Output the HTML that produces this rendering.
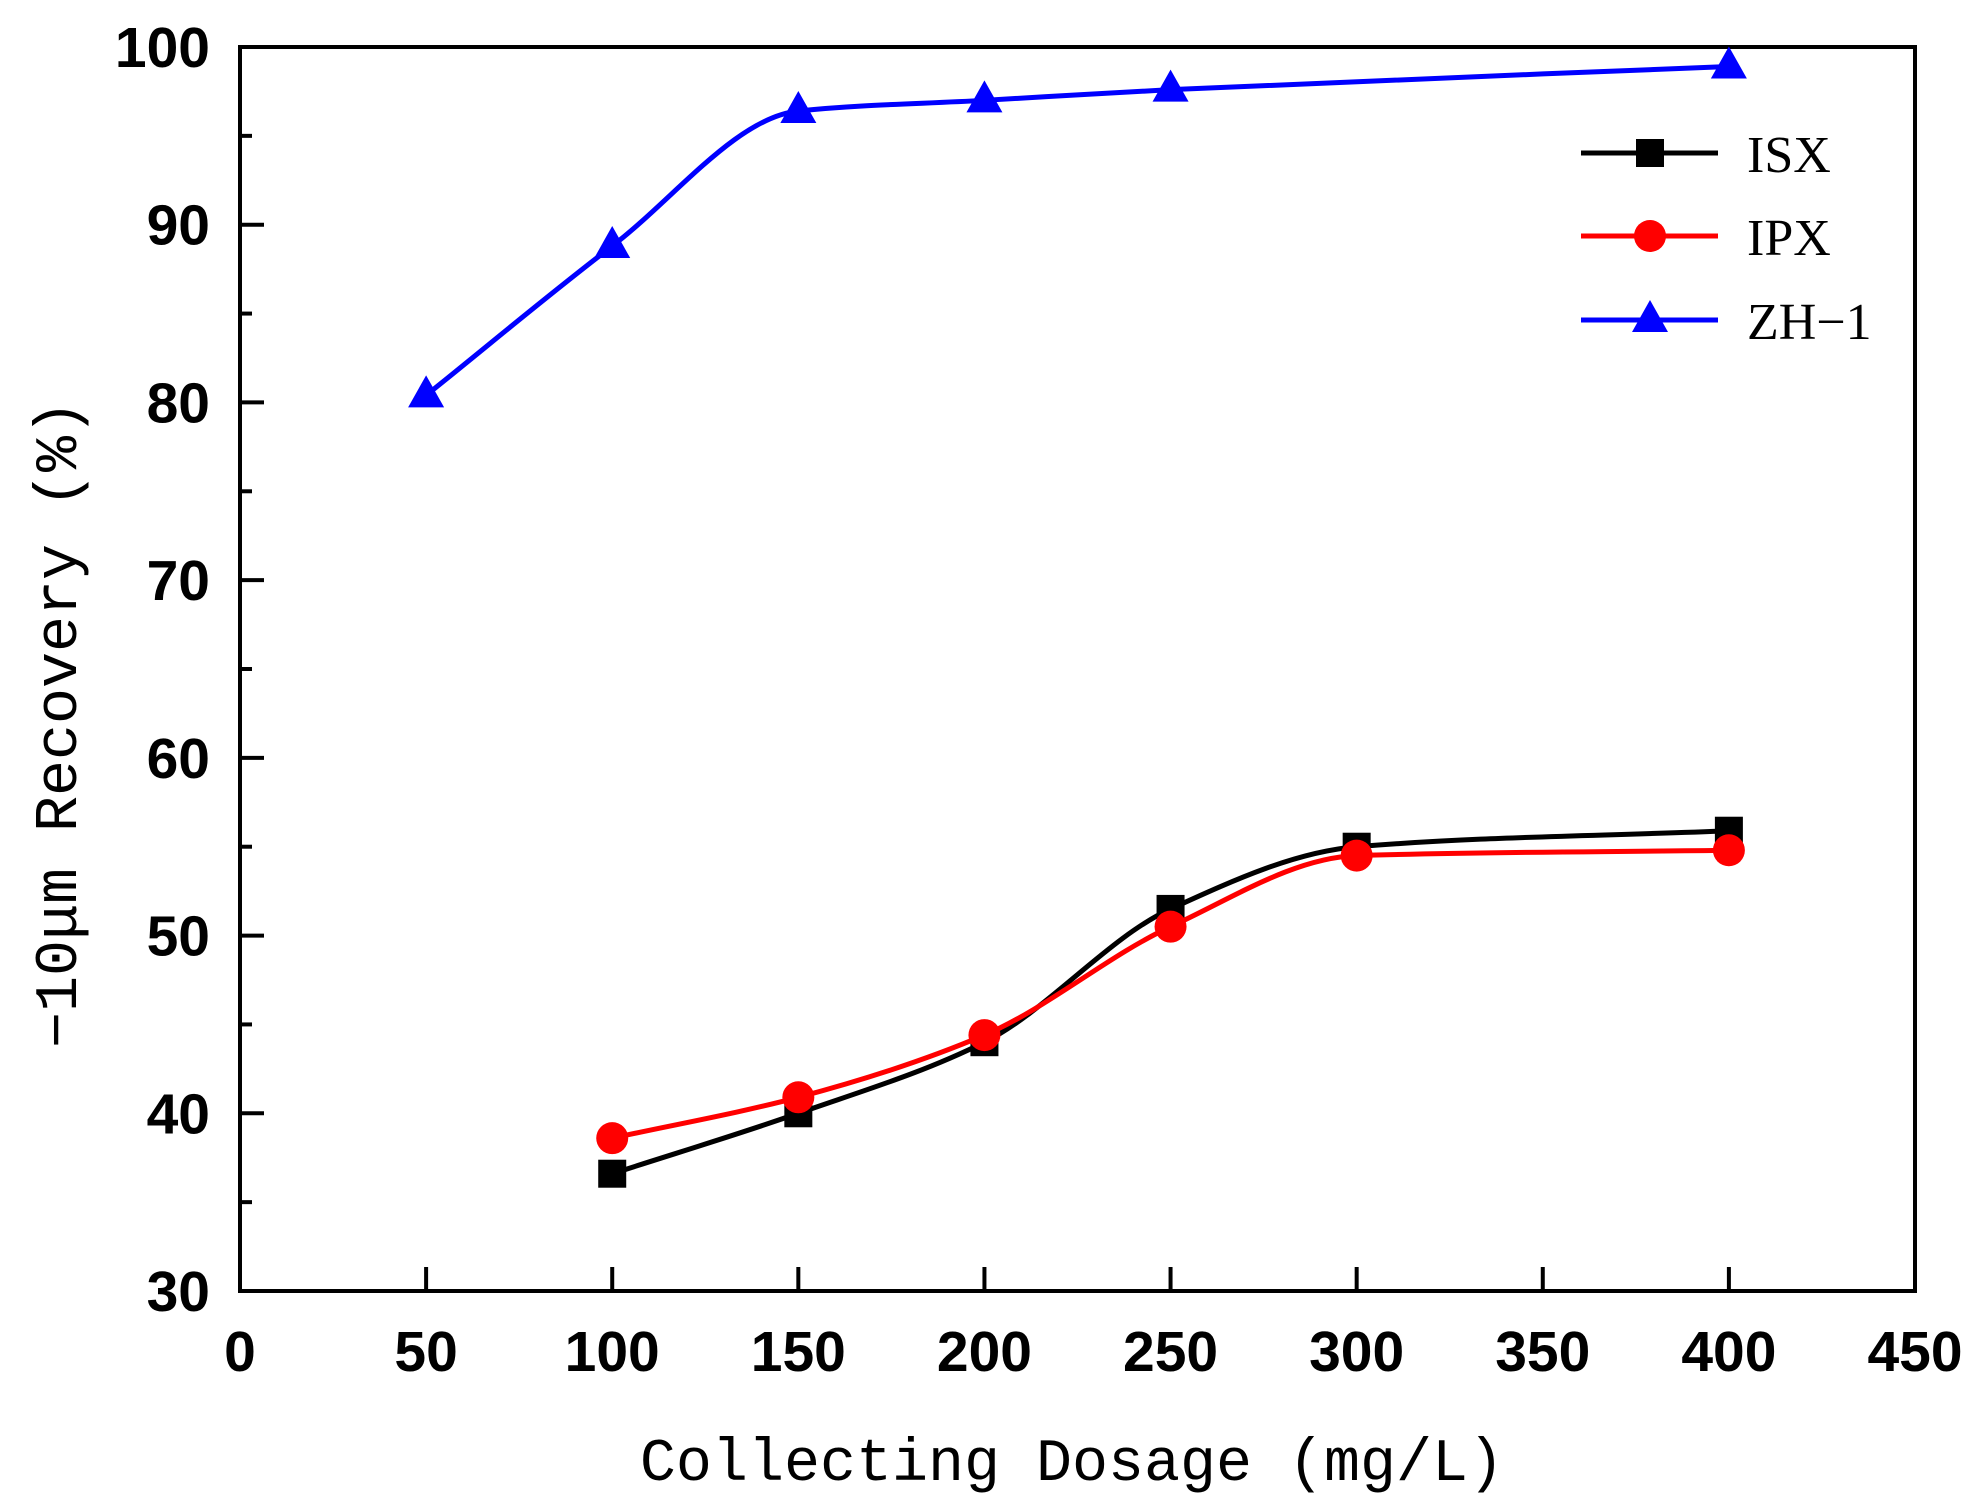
<!DOCTYPE html>
<html><head><meta charset="utf-8"><style>
html,body{margin:0;padding:0;background:#fff;}
svg{display:block;}
</style></head><body>
<svg id="chart" width="1982" height="1511" viewBox="0 0 1982 1511" xmlns="http://www.w3.org/2000/svg">
<g id="axes"></g>
<g id="series"></g>
<g id="legend">
  <line x1="1581" y1="153" x2="1718" y2="153" stroke="#000" stroke-width="5"/>
  <rect x="1636" y="139" width="28" height="28" fill="#000"/>
  <text x="1747" y="172" font-family="'Liberation Serif','Noto Serif CJK SC',serif" font-size="52">ISX</text>
  <line x1="1581" y1="236" x2="1718" y2="236" stroke="#f00" stroke-width="5"/>
  <circle cx="1650" cy="236" r="16" fill="#f00"/>
  <text x="1747" y="255" font-family="'Liberation Serif','Noto Serif CJK SC',serif" font-size="52">IPX</text>
  <line x1="1581" y1="320" x2="1718" y2="320" stroke="#00f" stroke-width="5"/>
  <polygon points="1650,300 1668,332 1632,332" fill="#00f"/>
  <text x="1747" y="339" font-family="'Liberation Serif','Noto Serif CJK SC',serif" font-size="52">ZH−1</text>
</g>
<text x="1072" y="1480" text-anchor="middle" font-family="'Liberation Mono','Noto Serif CJK SC',monospace" font-size="60">Collecting Dosage (mg/L)</text>
<text transform="translate(76,724) rotate(-90)" text-anchor="middle" font-family="'Liberation Mono','Noto Serif CJK SC',monospace" font-size="60">−10μm Recovery (%)</text>
</svg>
<script>
const xTicks=[0,50,100,150,200,250,300,350,400,450];
const yTicks=[30,40,50,60,70,80,90,100];
const isxX=[100,150,200,250,300,400];
const isxY=[36.6,40.0,44.0,51.5,55.0,55.9];
const ipxX=[100,150,200,250,300,400];
const ipxY=[38.6,40.9,44.4,50.5,54.5,54.8];
const zhX=[50,100,150,200,250,400];
const zhY=[80.4,88.8,96.4,97.0,97.6,98.9];

const L=240,R=1915,T=47,B=1291;
const sx=v=>L+(v-0)/(450-0)*(R-L);
const sy=v=>B-(v-30)/(100-30)*(B-T);
const NS='http://www.w3.org/2000/svg';
const ax=document.getElementById('axes');
const se=document.getElementById('series');
function mk(tag,attrs,parent){const e=document.createElementNS(NS,tag);for(const k in attrs)e.setAttribute(k,attrs[k]);parent.appendChild(e);return e;}

const frame=mk('rect',{x:L,y:T,width:R-L,height:B-T,fill:'none',stroke:'#000','stroke-width':4},ax);


xTicks.forEach(v=>{
  const x=sx(v);
  if(v>0&&v<450){const t=mk('line',{x1:x,y1:B,x2:x,y2:B-24,stroke:'#000','stroke-width':4},ax);
  
  }
  const tx=mk('text',{x:x,y:B+80,'text-anchor':'middle','font-family':"'Liberation Sans',sans-serif",'font-weight':'bold','font-size':57},ax);
  tx.textContent=v;
  
  
});
yTicks.forEach(v=>{
  const y=sy(v);
  if(v>30&&v<100){const t=mk('line',{x1:L,y1:y,x2:L+24,y2:y,stroke:'#000','stroke-width':4},ax);
  
  }
  if(v<100){const m=mk('line',{x1:L,y1:sy(v+5),x2:L+12,y2:sy(v+5),stroke:'#000','stroke-width':4},ax);
  
  }
  const tx=mk('text',{x:L-30,y:y+20,'text-anchor':'end','font-family':"'Liberation Sans',sans-serif",'font-weight':'bold','font-size':57},ax);
  tx.textContent=v;
  
  
});

function spline(xs,ys){
  const p=xs.map((x,i)=>[sx(x),sy(ys[i])]);
  const n=p.length;
  const d0=[];for(let i=0;i<n-1;i++)d0.push((p[i+1][1]-p[i][1])/(p[i+1][0]-p[i][0]));
  const m=[];
  for(let i=0;i<n;i++){
    if(i===0)m.push(d0[0]);else if(i===n-1)m.push(d0[n-2]);
    else if(d0[i-1]*d0[i]<=0)m.push(0);
    else{const h0=p[i][0]-p[i-1][0],h1=p[i+1][0]-p[i][0];const w1=2*h1+h0,w2=h1+2*h0;m.push((w1+w2)/(w1/d0[i-1]+w2/d0[i]));}
  }
  let d='M'+p[0][0]+','+p[0][1];
  for(let i=0;i<n-1;i++){
    const h=(p[i+1][0]-p[i][0])/3;
    d+=` C${p[i][0]+h},${p[i][1]+m[i]*h} ${p[i+1][0]-h},${p[i+1][1]-m[i+1]*h} ${p[i+1][0]},${p[i+1][1]}`;
  }
  return d;
}
function draw(xs,ys,color,shape,name){
  const path=mk('path',{d:spline(xs,ys),fill:'none',stroke:color,'stroke-width':5},se);
  
  
  xs.forEach((x,i)=>{
    const cx=sx(x),cy=sy(ys[i]);let e;
    if(shape==='sq')e=mk('rect',{x:cx-14,y:cy-14,width:28,height:28,fill:color},se);
    else if(shape==='ci')e=mk('circle',{cx:cx,cy:cy,r:16,fill:color},se);
    else e=mk('polygon',{points:`${cx},${cy-20} ${cx+18},${cy+12} ${cx-18},${cy+12}`,fill:color},se);
    
    
  });
}
draw(zhX,zhY,'#00f','tr','zh1');
draw(isxX,isxY,'#000','sq','isx');
draw(ipxX,ipxY,'#f00','ci','ipx');
</script>
</body></html>
